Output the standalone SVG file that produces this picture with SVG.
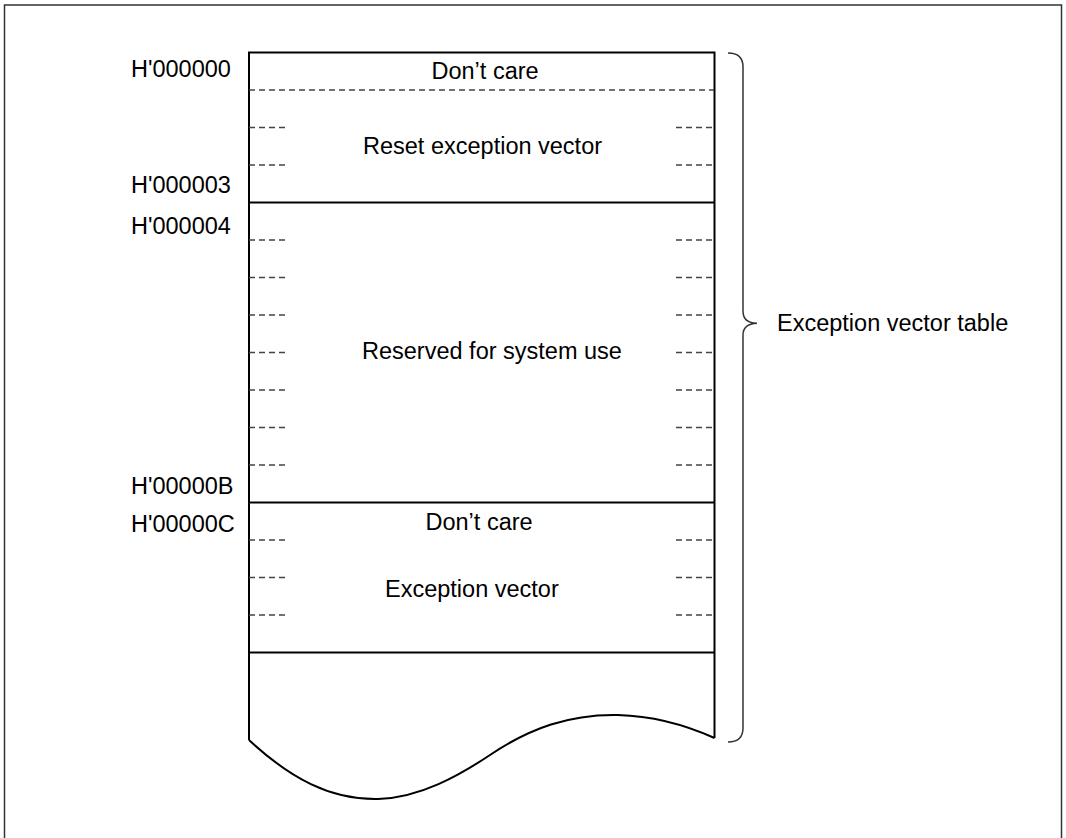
<svg xmlns="http://www.w3.org/2000/svg" width="1066" height="838" viewBox="0 0 1066 838">
<style>
.t{font-family:"Liberation Sans",Arial,sans-serif;font-size:23.5px;fill:#000}
.solid{stroke:#000;stroke-width:2;fill:none}
.dash{stroke:#444;stroke-width:1.3;stroke-dasharray:6 4;fill:none}
.brace{stroke:#333;stroke-width:1.5;fill:none}
</style>
<rect width="1066" height="838" fill="#fff"/>
<rect x="4.5" y="5" width="1057" height="850" fill="none" stroke="#333" stroke-width="1.5"/>
<g id="memory-map">
<path class="solid" d="M249,740 L249,52.5 L714.5,52.5 L714.5,738"/>
<path class="solid" d="M249,740 C290,778 330,800 378,799 C420,798 460,775 490,755 C530,728 570,714 618,715 C655,716 690,727 714.5,738"/>
</g>
<g id="connectors">
<line class="solid" x1="249" y1="202.5" x2="714.5" y2="202.5"/>
<line class="solid" x1="249" y1="502.5" x2="714.5" y2="502.5"/>
<line class="solid" x1="249" y1="652.5" x2="714.5" y2="652.5"/>
<line class="dash" x1="249" y1="90" x2="714" y2="90"/>
<path class="dash" d="M249,127.5H287M249,165H287M249,240H287M249,277.5H287M249,315H287M249,352.5H287M249,390H287M249,427.5H287M249,465H287M249,540H287M249,577.5H287M249,615H287"/>
<path class="dash" d="M676,127.5H714M676,165H714M676,240H714M676,277.5H714M676,315H714M676,352.5H714M676,390H714M676,427.5H714M676,465H714M676,540H714M676,577.5H714M676,615H714"/>
</g>
<g id="reset-section">
<text class="t" x="431.5" y="78.5">Don’t care</text>
<text class="t" x="363" y="154">Reset exception vector</text>
</g>
<g id="reserved-section">
<text class="t" x="362" y="358.5">Reserved for system use</text>
</g>
<g id="exception-section">
<text class="t" x="425.5" y="530">Don’t care</text>
<text class="t" x="385" y="597">Exception vector</text>
</g>
<g id="addresses">
<text class="t" x="131" y="77">H'000000</text>
<text class="t" x="131" y="193">H'000003</text>
<text class="t" x="131" y="233.5">H'000004</text>
<text class="t" x="131" y="493.5">H'00000B</text>
<text class="t" x="131" y="532">H'00000C</text>
</g>
<g id="vector-table-brace">
<path class="brace" d="M728,53 Q743,53 743,67 L743,311 Q743,323 757,323.3 Q743,324 743,335 L743,728 Q743,742 728,742"/>
<text class="t" x="777" y="331">Exception vector table</text>
</g>
</svg>
